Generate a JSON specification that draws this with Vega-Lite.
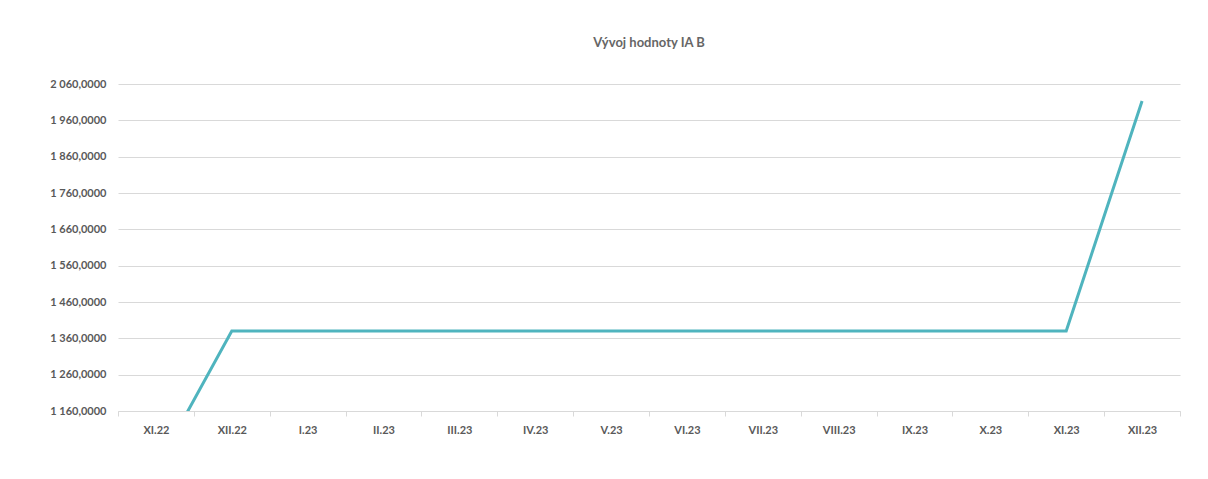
{
  "$schema": "https://vega.github.io/schema/vega-lite/v6.json",
  "autosize": "none",
  "width": 1062,
  "height": 327,
  "padding": {"left": 118, "top": 84, "right": 28, "bottom": 68},
  "background": "white",
  "config": {
    "locale": {"number": {"decimal": ",", "thousands": " ", "grouping": [3], "currency": ["", ""]}},
    "view": {"stroke": null},
    "font": "Lato"
  },
  "title": {
    "text": "Vývoj hodnoty IA B",
    "fontSize": 13,
    "fontWeight": "bold",
    "color": "#666666",
    "font": "Lato",
    "offset": 28,
    "anchor": "middle"
  },
  "data": {
    "values": [
      {"mesic": "XI.22", "hodnota": 1000},
      {"mesic": "XII.22", "hodnota": 1380},
      {"mesic": "I.23", "hodnota": 1380},
      {"mesic": "II.23", "hodnota": 1380},
      {"mesic": "III.23", "hodnota": 1380},
      {"mesic": "IV.23", "hodnota": 1380},
      {"mesic": "V.23", "hodnota": 1380},
      {"mesic": "VI.23", "hodnota": 1380},
      {"mesic": "VII.23", "hodnota": 1380},
      {"mesic": "VIII.23", "hodnota": 1380},
      {"mesic": "IX.23", "hodnota": 1380},
      {"mesic": "X.23", "hodnota": 1380},
      {"mesic": "XI.23", "hodnota": 1380},
      {"mesic": "XII.23", "hodnota": 2013}
    ]
  },
  "mark": {"type": "line", "color": "#4FB4BE", "strokeWidth": 3, "clip": true},
  "encoding": {
    "x": {
      "field": "mesic",
      "type": "ordinal",
      "sort": null,
      "scale": {"type": "band", "paddingInner": 0, "paddingOuter": 0},
      "axis": {
        "title": null,
        "labelAngle": 0,
        "labelFont": "Lato",
        "labelFontSize": 11,
        "labelFontWeight": "bold",
        "labelColor": "#595959",
        "labelPadding": 8,
        "domainColor": "#D9D9D9",
        "tickColor": "#D9D9D9",
        "tickBand": "extent",
        "tickSize": 5,
        "grid": false
      }
    },
    "y": {
      "field": "hodnota",
      "type": "quantitative",
      "scale": {"domain": [1160, 2060], "nice": false, "zero": false},
      "axis": {
        "title": null,
        "values": [1160, 1260, 1360, 1460, 1560, 1660, 1760, 1860, 1960, 2060],
        "format": ",.4f",
        "labelFont": "Lato",
        "labelFontSize": 11,
        "labelFontWeight": "bold",
        "labelColor": "#595959",
        "labelPadding": 12,
        "domain": false,
        "ticks": false,
        "grid": true,
        "gridColor": "#D9D9D9",
        "gridWidth": 1
      }
    }
  }
}
